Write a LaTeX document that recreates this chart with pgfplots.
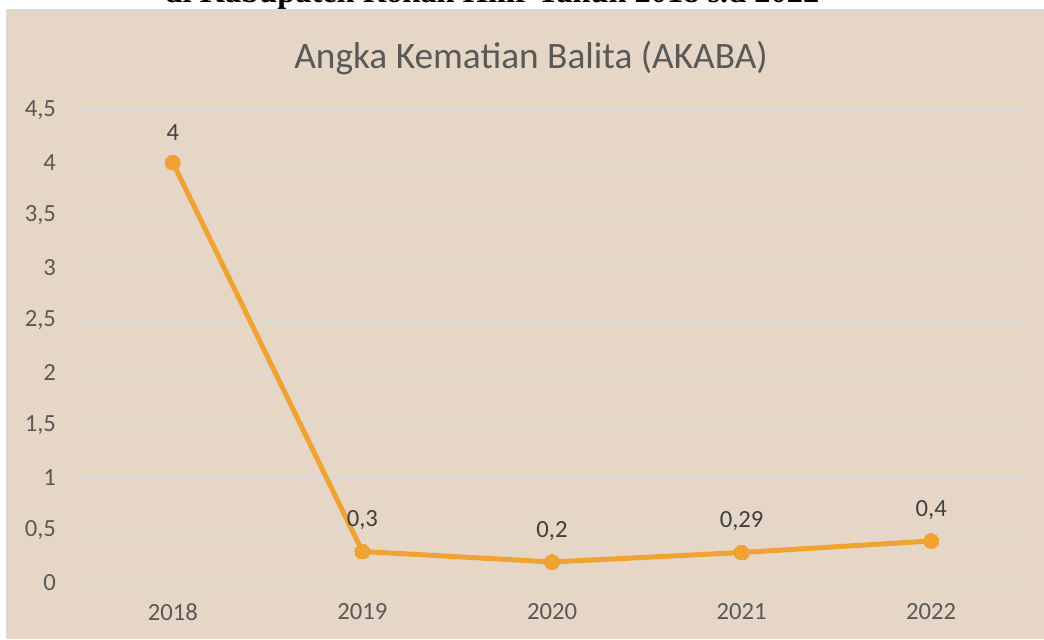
\documentclass[border=0pt]{standalone}
\usepackage{pgfplots}
\pgfplotsset{compat=1.18}
\usepackage{graphicx}
\usepackage{fontspec}
\setmainfont{Carlito}
\newfontfamily\headfont{Liberation Serif}
\definecolor{bg}{HTML}{E6D6C6}
\definecolor{gridc}{HTML}{D9D9D9}
\definecolor{txt}{HTML}{595959}
\definecolor{lbl}{HTML}{404040}
\definecolor{lineorange}{HTML}{F0A232}
\begin{document}
\begin{tikzpicture}[x=0.75pt,y=0.75pt]
\useasboundingbox (0,0) rectangle (1044,639);
\fill[white] (0,0) rectangle (1044,639);
\fill[bg] (7,0) rectangle (1044,629);
\draw[gridc, line width=1.5] (7,0) -- (7,629) -- (1044,629);
\node[anchor=base, inner sep=0pt] at (492,636) {\resizebox{491pt}{!}{\headfont\bfseries di Kabupaten Rokan Hilir Tahun 2018 s.d 2022}};
\node[anchor=base, inner sep=0pt, text=txt, font=\fontsize{28pt}{33pt}\selectfont] at (531,570) {Angka Kematian Balita (AKABA)};
\begin{axis}[
  at={(58.5pt,42pt)}, anchor=south west,
  scale only axis, width=711pt, height=354.75pt,
  xmin=2017.5, xmax=2022.5, ymin=0, ymax=4.5,
  xtick={2018,2019,2020,2021,2022},
  xticklabels={2018,2019,2020,2021,2022},
  ytick={0,0.5,...,4.5},
  ymajorgrids, grid style={gridc, line width=1.1pt},
  axis line style={draw=none},
  major tick length=0pt,
  tick label style={font=\fontsize{18.5pt}{21pt}\selectfont, text=txt},
  /pgf/number format/.cd, use comma, assume math mode=true, /pgfplots/.cd,
  yticklabel shift=13pt,
  xticklabel shift=12pt,
  nodes near coords,
  every node near coord/.append style={font=\fontsize{18.5pt}{21pt}\selectfont, text=lbl, anchor=south, yshift=13pt},
  clip=false,
]
\addplot[color=lineorange, line width=3.75pt, mark=*, mark size=5.6pt, mark options={fill=lineorange, draw=lineorange, line width=0pt}]
coordinates {(2018,4) (2019,0.3) (2020,0.2) (2021,0.29) (2022,0.4)};
\end{axis}
\end{tikzpicture}
\end{document}
